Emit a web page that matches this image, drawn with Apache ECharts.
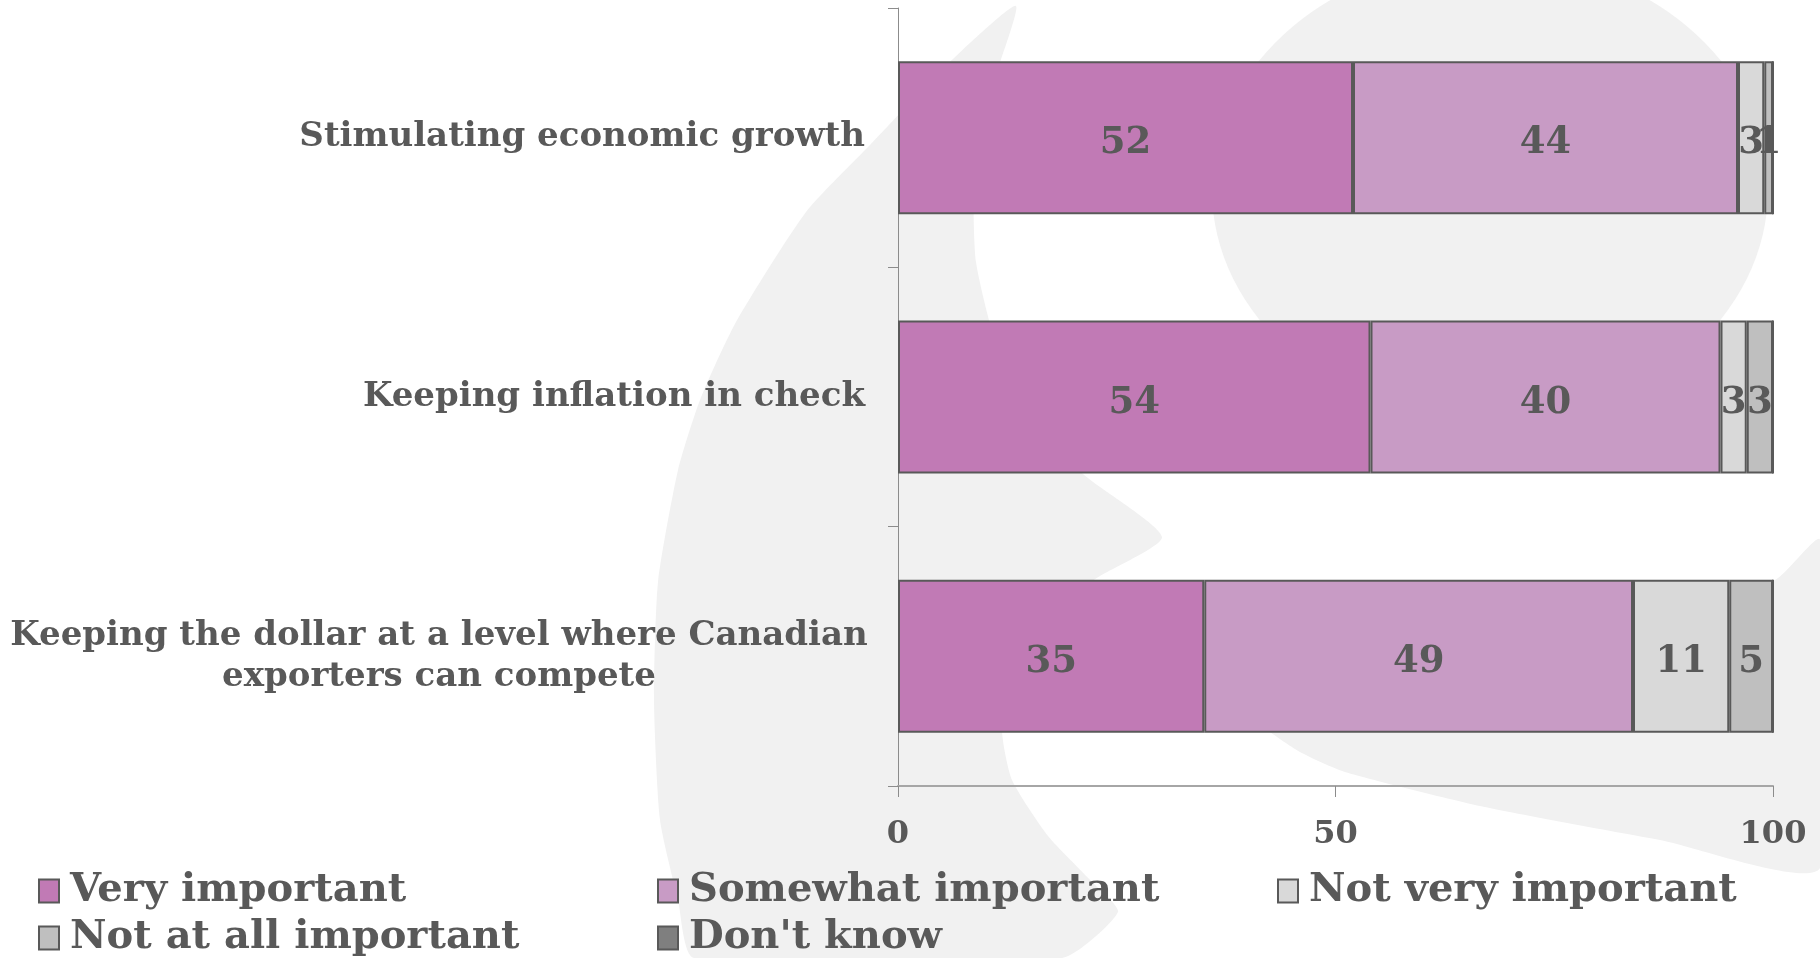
<!DOCTYPE html>
<html>
<head>
<meta charset="utf-8">
<script src="https://cdn.jsdelivr.net/npm/echarts@6/dist/echarts.min.js"></script>
<style>
  html, body { margin: 0; padding: 0; background: #ffffff; }
  #chart { width: 1820px; height: 958px; }
</style>
</head>
<body>
<div id="chart"></div>
<script>
// Survey items (top to bottom)
const categories = [
  'Stimulating economic growth',
  'Keeping inflation in check',
  'Keeping the dollar at a level where Canadian\nexporters can compete'
];

// Response options, in stacking order
const seriesNames = ['Very important', 'Somewhat important', 'Not very important', 'Not at all important', "Don't know"];

// Percentages per item
const veryImportant     = [52, 54, 35];
const somewhatImportant = [44, 40, 49];
const notVeryImportant  = [3, 3, 11];
const notAtAllImportant = [1, 3, 5];
const dontKnow          = [0, 0, 0];

const seriesValues = [veryImportant, somewhatImportant, notVeryImportant, notAtAllImportant, dontKnow];

// Value axis range and step (tick labels 0, 50, 100)
const axisMin = 0;
const axisMax = 100;
const axisStep = 50;

const colors = ['#c17ab5', '#c89bc5', '#d9d9d9', '#bfbfbf', '#7f7f7f'];
const textColor = '#595959';
const serif = '"DejaVu Serif", "Liberation Serif", serif';

// Light grey logo shapes in the background
const shade = '#f1f1f1';
const leftSwoosh = [
  [1016, 6], [950, 62], [870, 145], [806, 212], [736, 322], [700, 400], [678, 470],
  [658, 582], [654, 700], [660, 820], [678, 900], [694, 958],
  [1062, 958], [1118, 912], [1092, 882], [1048, 836], [1012, 780], [1002, 730],
  [1012, 680], [1050, 622], [1094, 580], [1162, 537], [1082, 473], [1030, 410],
  [995, 340], [976, 262], [974, 190], [988, 100]
];
const lowerBand = [
  [1820, 540], [1775, 580], [1620, 630], [1450, 672], [1300, 700], [1250, 712],
  [1262, 726], [1300, 752], [1345, 772], [1480, 806], [1660, 840], [1820, 868]
];

const chart = echarts.init(document.getElementById('chart'), null, { renderer: 'canvas' });

const legendPos = [
  [38, 870], [657, 870], [1277, 870],
  [38, 917], [657, 917]
];

const option = {
  backgroundColor: '#ffffff',
  animation: false,
  graphic: [
    {
      type: 'polygon', silent: true, z: -10,
      shape: { points: leftSwoosh, smooth: 0.2 },
      style: { fill: shade }
    },
    {
      type: 'circle', silent: true, z: -10,
      x: 1490, y: 190, scaleY: 232 / 278,
      shape: { cx: 0, cy: 0, r: 278 },
      style: { fill: shade }
    },
    {
      type: 'polygon', silent: true, z: -10,
      shape: { points: lowerBand, smooth: 0.2 },
      style: { fill: shade }
    }
  ],
  grid: {
    left: 898,
    right: 47,
    top: 8,
    bottom: 172,
    containLabel: false,
    outerBoundsMode: 'none'
  },
  legend: seriesNames.map((name, i) => ({
    data: [name],
    left: legendPos[i][0],
    top: legendPos[i][1],
    padding: 0,
    itemWidth: 20,
    itemHeight: 23,
    icon: 'rect',
    selectedMode: false,
    itemStyle: { borderColor: textColor, borderWidth: 2 },
    textStyle: {
      fontFamily: serif, fontWeight: 'bold', fontSize: 40,
      color: textColor, lineHeight: 42, padding: [0, 0, 0, 6]
    }
  })),
  xAxis: {
    type: 'value',
    min: axisMin,
    max: axisMax,
    interval: axisStep,
    splitLine: { show: false },
    axisLine: { show: true, lineStyle: { color: '#a6a6a6', width: 2 } },
    axisTick: { show: true, length: 11, lineStyle: { color: '#8c8c8c', width: 1 } },
    axisLabel: {
      margin: 33,
      fontFamily: serif, fontWeight: 'bold', fontSize: 32, color: textColor
    }
  },
  yAxis: {
    type: 'category',
    data: categories,
    inverse: true,
    axisLine: { show: true, lineStyle: { color: '#8c8c8c', width: 1 } },
    axisTick: { show: true, length: 10, lineStyle: { color: '#8c8c8c', width: 1 } },
    splitLine: { show: false },
    axisLabel: {
      margin: 33,
      fontFamily: serif, fontWeight: 'bold', fontSize: 34, color: textColor,
      lineHeight: 41,
      formatter: (v) => {
        if (v.indexOf('\n') < 0) return v;
        return v.split('\n').map(s => '{c|' + s + '}').join('\n');
      },
      rich: {
        c: {
          width: 852, align: 'center',
          fontFamily: serif, fontWeight: 'bold', fontSize: 34, color: textColor, lineHeight: 41
        }
      }
    }
  },
  series: seriesNames.map((name, i) => ({
    name: name,
    type: 'bar',
    stack: 'total',
    data: seriesValues[i],
    barWidth: 153,
    itemStyle: { color: colors[i], borderColor: textColor, borderWidth: 2 },
    emphasis: { disabled: true },
    label: {
      show: true,
      position: 'inside',
      offset: [0, 6],
      formatter: (p) => (p.value > 0 ? String(p.value) : ''),
      fontFamily: serif, fontWeight: 'bold', fontSize: 37,
      color: textColor, textBorderWidth: 0
    }
  }))
};

chart.setOption(option);
</script>
</body>
</html>
